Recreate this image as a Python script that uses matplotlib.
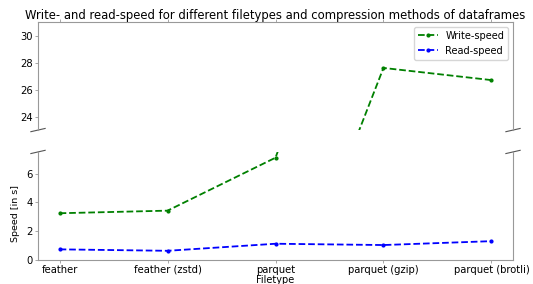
import matplotlib.pyplot as plt

filetypes = ["feather", "feather (zstd)", "parquet", "parquet (gzip)", "parquet (brotli)"]
write_speed = [3.24, 3.42, 7.1, 27.6, 26.7]
read_speed = [0.73, 0.63, 1.12, 1.03, 1.3]

plt.rcParams['font.size'] = 7
grey = '#999999'

fig = plt.figure(figsize=(5.33, 2.84), dpi=100)
ax_top = fig.add_axes([0.0713, 0.542, 0.8912, 0.3805])
ax_bot = fig.add_axes([0.0713, 0.085, 0.8912, 0.38], sharex=ax_top)

for ax in (ax_top, ax_bot):
    ax.plot(filetypes, write_speed, "g.--", label="Write-speed", markersize=4, lw=1.3)
    ax.plot(filetypes, read_speed, "b.--", label="Read-speed", markersize=4, lw=1.3)
    for s in ax.spines.values():
        s.set_color(grey)
        s.set_linewidth(0.8)
    ax.tick_params(color=grey, length=2.5, width=0.6, pad=1.2, labelsize=7.2)

ax_top.set_ylim(23, 31)
ax_bot.set_ylim(0, 7.5)
ax_top.set_yticks([24, 26, 28, 30])
ax_bot.set_yticks([0, 2, 4, 6])

ax_top.spines['bottom'].set_visible(False)
ax_bot.spines['top'].set_visible(False)
ax_top.xaxis.tick_top()
ax_top.tick_params(labeltop=False)
ax_bot.xaxis.tick_bottom()

# break marks
d = .015
kw = dict(transform=ax_top.transAxes, color='#555555', clip_on=False, lw=0.8)
ax_top.plot((-d, +d), (-d, +d), **kw)
ax_top.plot((1 - d, 1 + d), (-d, +d), **kw)
kw.update(transform=ax_bot.transAxes)
ax_bot.plot((-d, +d), (1 - d, 1 + d), **kw)
ax_bot.plot((1 - d, 1 + d), (1 - d, 1 + d), **kw)

ax_top.set_title("Write- and read-speed for different filetypes and compression methods of dataframes",
                 fontsize=8.4, pad=1)
ax_top.legend(loc='upper right', fontsize=7)
ax_bot.set_ylabel("Speed [in s]", fontsize=6.8)
ax_bot.yaxis.set_label_coords(-0.037, 0.43)
ax_bot.set_xlabel("Filetype", labelpad=0)

plt.savefig("out.png", dpi=100)
